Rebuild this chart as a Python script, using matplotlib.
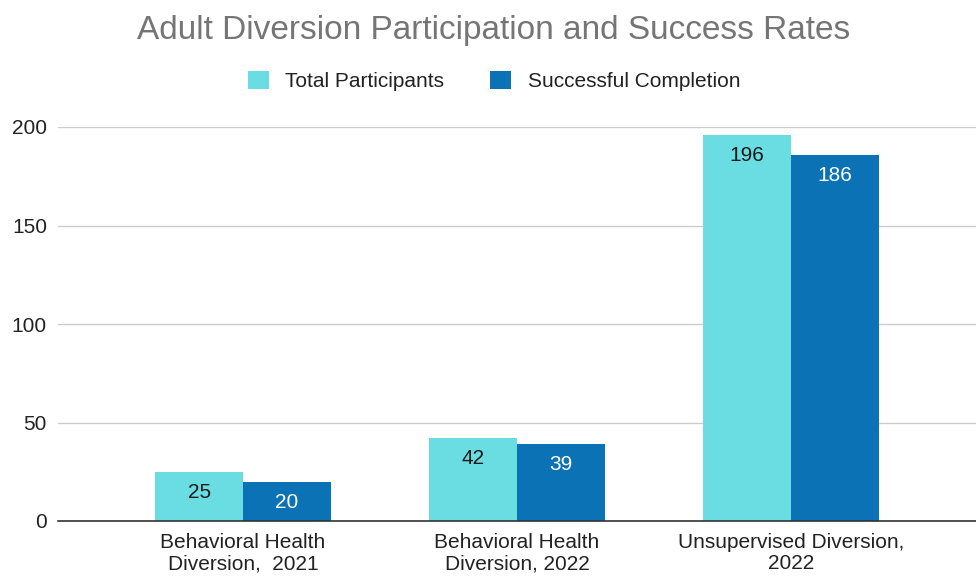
import matplotlib.pyplot as plt
import numpy as np

plt.rcParams['font.family'] = ['Liberation Sans', 'DejaVu Sans']

categories = ['Behavioral Health\nDiversion,  2021',
              'Behavioral Health\nDiversion, 2022',
              'Unsupervised Diversion,\n2022']
total_participants = [25, 42, 196]
successful_completion = [20, 39, 186]

light = '#6ADDE3'
dark = '#0B72B5'

fig = plt.figure(figsize=(9.76, 5.78), dpi=100)
ax = fig.add_axes([58/976, 1 - 521/578, 1 - 58/976, (521 - 127)/578])

x = np.arange(len(categories))
width = 0.32

bars1 = ax.bar(x - width/2, total_participants, width, color=light, label='Total Participants', zorder=3)
bars2 = ax.bar(x + width/2, successful_completion, width, color=dark, label='Successful Completion', zorder=3)

# value labels inside the bar tops
for bar in bars1:
    h = bar.get_height()
    ax.annotate(f'{h:.0f}', (bar.get_x() + bar.get_width()/2, h), xytext=(0, -8),
                textcoords='offset points', ha='center', va='top', fontsize=15, color='#1a1a1a', zorder=4)
for bar in bars2:
    h = bar.get_height()
    ax.annotate(f'{h:.0f}', (bar.get_x() + bar.get_width()/2, h), xytext=(0, -8),
                textcoords='offset points', ha='center', va='top', fontsize=15, color='white', zorder=4)

ax.set_xlim(-0.675, 2.675)
ax.set_ylim(0, 200)
ax.set_yticks([0, 50, 100, 150, 200])
ax.set_xticks(x)
ax.set_xticklabels(categories, fontsize=15, color='#222222', linespacing=1.1)
ax.tick_params(axis='y', labelsize=15, colors='#222222', length=0, pad=8)
ax.tick_params(axis='x', length=0, pad=9)
ax.grid(axis='y', color='#cccccc', linewidth=1, zorder=0)
for s in ['top', 'right', 'left']:
    ax.spines[s].set_visible(False)
ax.spines['bottom'].set_color('#333333')
ax.spines['bottom'].set_linewidth(1.2)
ax.spines['bottom'].set_zorder(5)

fig.text(494/976, 1 - 30/578, 'Adult Diversion Participation and Success Rates',
         ha='center', va='center', fontsize=24, color='#757575')
fig.legend(loc='center', bbox_to_anchor=(494/976, 1 - 81/578), ncol=2, frameon=False,
           fontsize=15, handlelength=1.0, handleheight=1.0, columnspacing=2.2,
           handletextpad=0.8, labelcolor='#222222')

fig.savefig('out.png', dpi=100)
